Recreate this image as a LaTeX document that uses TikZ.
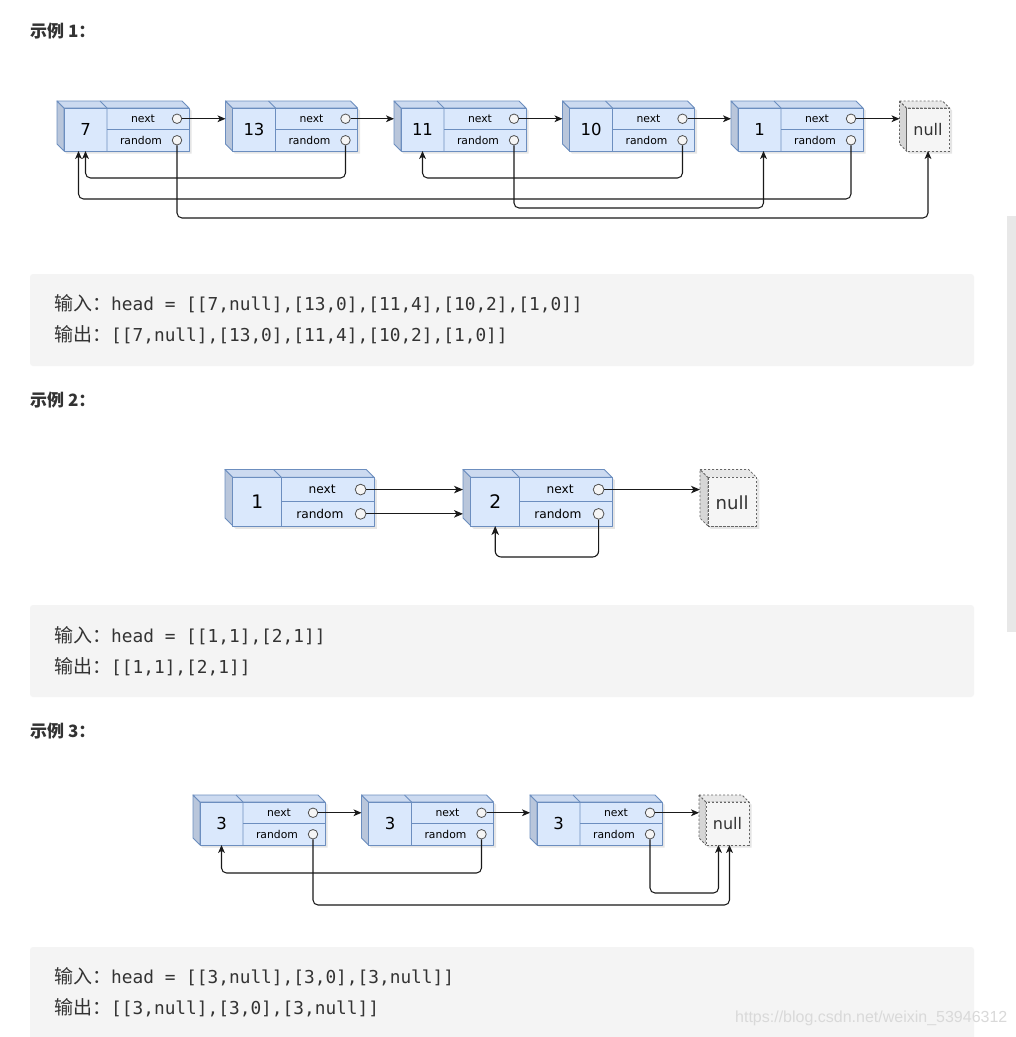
\documentclass[tikz,border=0pt]{standalone}
\usepackage{fontspec}
\setmainfont{DejaVu Sans}
\newfontfamily\cjk{Noto Sans CJK SC}
\newfontfamily\codefont{DejaVu Sans Mono}
\newfontfamily\wmfont{Liberation Sans}
\usetikzlibrary{arrows.meta}
\definecolor{nfront}{HTML}{DAE8FC}
\definecolor{ntop}{HTML}{CCDAF0}
\definecolor{nside}{HTML}{B9C6DB}
\definecolor{nstroke}{HTML}{6C8EBF}
\definecolor{ufront}{HTML}{F5F5F5}
\definecolor{utop}{HTML}{E8E8E8}
\definecolor{uside}{HTML}{D6D6D6}
\definecolor{ustroke}{HTML}{666666}
\definecolor{codebg}{HTML}{F4F4F4}
\definecolor{scrollc}{HTML}{E8E8E8}
\definecolor{txt}{HTML}{333333}
\definecolor{wmc}{HTML}{D9D9D9}
\definecolor{wire}{HTML}{1A1A1A}
\tikzset{
  nface/.style={draw=nstroke, line width=0.9pt, line join=round},
  uface/.style={draw=ustroke, line width=0.8pt, dash pattern=on 2.2pt off 1.8pt},
  ncirc/.style={circle, draw=ustroke!80!black, fill=ufront, line width=0.8pt, inner sep=0pt},
  shad/.style={fill=black, opacity=0.10},
  arr/.style={draw=wire, line width=1.05pt, -{Stealth[length=8pt,width=6.8pt,inset=2.2pt]}},
  rarr/.style={arr, rounded corners=5pt},
  arrb/.style={draw=wire, line width=1.1pt, -{Stealth[length=9pt,width=7.5pt,inset=2.5pt]}},
  rarrb/.style={arrb, rounded corners=6pt},
  head/.style={anchor=west, inner sep=0pt, text=txt, font={\cjk\bfseries\fontsize{17}{20}\selectfont}},
  code/.style={anchor=west, inner sep=0pt, text=txt, font={\codefont\fontsize{17.8}{22}\selectfont}},
}
% linked-list node: #1 name, #2 x, #3 y, #4 value, #5 scale
\newcommand{\LLnode}[5]{%
  \begin{scope}[shift={(#2,#3)}, scale=#5]
    \pgfmathsetmacro\vfs{16.5*#5}\pgfmathsetmacro\ffs{10.8*#5}%
    \fill[shad] (2.5,2.5) -- (127.5,2.5) -- (134.5,9.5) -- (134.5,52.5) -- (9.5,52.5) -- (2.5,45.5) -- cycle;
    \filldraw[nface, fill=nside] (0,0) -- (7,7) -- (7,50) -- (0,43) -- cycle;
    \filldraw[nface, fill=ntop] (0,0) -- (125,0) -- (132,7) -- (7,7) -- cycle;
    \filldraw[nface, fill=nfront] (7,7) rectangle (132,50);
    \draw[nface] (43,0) -- (50,7) -- (50,50);
    \draw[nface] (50,28.5) -- (132,28.5);
    \node[inner sep=0pt, font={\fontsize{\vfs}{\vfs}\selectfont}] (#1) at (28.5,28.5) {#4};
    \node[inner sep=0pt, font={\fontsize{\ffs}{\ffs}\selectfont}] (#1-tn) at (86,17.75) {next};
    \node[inner sep=0pt, font={\fontsize{\ffs}{\ffs}\selectfont}] (#1-tr) at (84,39.25) {random};
    \node[ncirc, minimum size=#5*9.5pt] (#1-n) at (120,17.75) {};
    \node[ncirc, minimum size=#5*9.5pt] (#1-r) at (120,39.25) {};
    \coordinate (#1-in) at (0,17.75);
    \coordinate (#1-in2) at (0,39.25);
    \coordinate (#1-b) at (28.5,50);
  \end{scope}}
% null box: #1 name, #2 x, #3 y, #4 scale
\newcommand{\NullBox}[4]{%
  \begin{scope}[shift={(#2,#3)}, scale=#4]
    \pgfmathsetmacro\ufs{16*#4}%
    \fill[shad] (2.5,2.5) -- (45.5,2.5) -- (52.5,9.5) -- (52.5,52.5) -- (9.5,52.5) -- (2.5,45.5) -- cycle;
    \filldraw[uface, fill=uside] (0,0) -- (7,7) -- (7,50) -- (0,43) -- cycle;
    \filldraw[uface, fill=utop] (0,0) -- (43,0) -- (50,7) -- (7,7) -- cycle;
    \filldraw[uface, fill=ufront] (7,7) rectangle (50,50);
    \node[inner sep=0pt, text=black!80, font={\fontsize{\ufs}{\ufs}\selectfont}] (#1) at (28.5,29) {null};
    \coordinate (#1-in) at (0,17.75);
    \coordinate (#1-b) at (28.5,50);
  \end{scope}}
\begin{document}
\begin{tikzpicture}[x=1pt, y=-1pt]
\useasboundingbox (0,0) rectangle (1016,1037);
\fill[white] (0,0) rectangle (1016,1037);
% scrollbar
\fill[scrollc] (1007,216) rectangle (1016,632);

% ---------- Example 1 ----------
\node[head] (h1) at (30,31) {示例 1：};
\LLnode{a1}{57}{101}{7}{1}
\LLnode{a2}{225.5}{101}{13}{1}
\LLnode{a3}{394}{101}{11}{1}
\LLnode{a4}{562.5}{101}{10}{1}
\LLnode{a5}{731}{101}{1}{1}
\NullBox{a6}{899.5}{101}{1}
\coordinate (a1-b2) at ([xshift=-7pt]a1-b);
\coordinate (a5-b3) at ([xshift=4pt]a5-b);
\coordinate (L178) at (0,178);
\coordinate (L199) at (0,199);
\coordinate (L208) at (0,208);
\coordinate (L218) at (0,218);
\draw[arr] (a1-n.east) -- (a2-in);
\draw[arr] (a2-n.east) -- (a3-in);
\draw[arr] (a3-n.east) -- (a4-in);
\draw[arr] (a4-n.east) -- (a5-in);
\draw[arr] (a5-n.east) -- (a6-in);
\draw[rarr] (a2-r.south) -- (a2-r |- L178) -- (a1-b |- L178) -- (a1-b);
\draw[rarr] (a4-r.south) -- (a4-r |- L178) -- (a3-b |- L178) -- (a3-b);
\draw[rarr] (a5-r.south) -- (a5-r |- L199) -- (a1-b2 |- L199) -- (a1-b2);
\draw[rarr] (a3-r.south) -- (a3-r |- L208) -- (a5-b3 |- L208) -- (a5-b3);
\draw[rarr] (a1-r.south) -- (a1-r |- L218) -- (a6-b |- L218) -- (a6-b);

\fill[codebg, rounded corners=3pt] (30,274) rectangle (974,366);
\node[code] (c1i) at (54,304) {{\cjk\fontsize{19}{22}\selectfont 输入：}head = [[7,null],[13,0],[11,4],[10,2],[1,0]]};
\node[code] (c1o) at (54,335) {{\cjk\fontsize{19}{22}\selectfont 输出：}[[7,null],[13,0],[11,4],[10,2],[1,0]]};

% ---------- Example 2 ----------
\node[head] (h2) at (30,400) {示例 2：};
\LLnode{b1}{225}{469.5}{1}{1.13}
\LLnode{b2}{463}{469.5}{2}{1.13}
\NullBox{b3}{700}{469.5}{1.13}
\coordinate (L557) at (0,557);
\draw[arrb] (b1-n.east) -- (b2-in);
\draw[arrb] (b1-r.east) -- (b2-in2);
\draw[arrb] (b2-n.east) -- (b3-in);
\draw[rarrb] (b2-r.south) -- (b2-r |- L557) -- (b2-b |- L557) -- (b2-b);

\fill[codebg, rounded corners=3pt] (30,605) rectangle (974,697);
\node[code] (c2i) at (54,636) {{\cjk\fontsize{19}{22}\selectfont 输入：}head = [[1,1],[2,1]]};
\node[code] (c2o) at (54,667) {{\cjk\fontsize{19}{22}\selectfont 输出：}[[1,1],[2,1]]};

% ---------- Example 3 ----------
\node[head] (h3) at (30,731) {示例 3：};
\LLnode{c1}{193}{795}{3}{1}
\LLnode{c2}{361.5}{795}{3}{1}
\LLnode{c3}{530}{795}{3}{1}
\NullBox{c4}{699}{795}{1}
\coordinate (c4-b2) at ([xshift=-9pt]c4-b);
\coordinate (c4-b3) at ([xshift=2pt]c4-b);
\coordinate (L873) at (0,873);
\coordinate (L893) at (0,893);
\coordinate (L905) at (0,905);
\draw[arr] (c1-n.east) -- (c2-in);
\draw[arr] (c2-n.east) -- (c3-in);
\draw[arr] (c3-n.east) -- (c4-in);
\draw[rarr] (c2-r.south) -- (c2-r |- L873) -- (c1-b |- L873) -- (c1-b);
\draw[rarr] (c3-r.south) -- (c3-r |- L893) -- (c4-b2 |- L893) -- (c4-b2);
\draw[rarr] (c1-r.south) -- (c1-r |- L905) -- (c4-b3 |- L905) -- (c4-b3);

\fill[codebg, rounded corners=3pt] (30,947) rectangle (974,1045);
\node[code] (c3i) at (54,977) {{\cjk\fontsize{19}{22}\selectfont 输入：}head = [[3,null],[3,0],[3,null]]};
\node[code] (c3o) at (54,1008) {{\cjk\fontsize{19}{22}\selectfont 输出：}[[3,null],[3,0],[3,null]]};

% watermark
\node[anchor=west, inner sep=0pt, text=wmc, font={\wmfont\fontsize{16}{18}\selectfont}] (wm) at (735,1018) {https://blog.csdn.net/weixin\_53946312};
\end{tikzpicture}
\end{document}
